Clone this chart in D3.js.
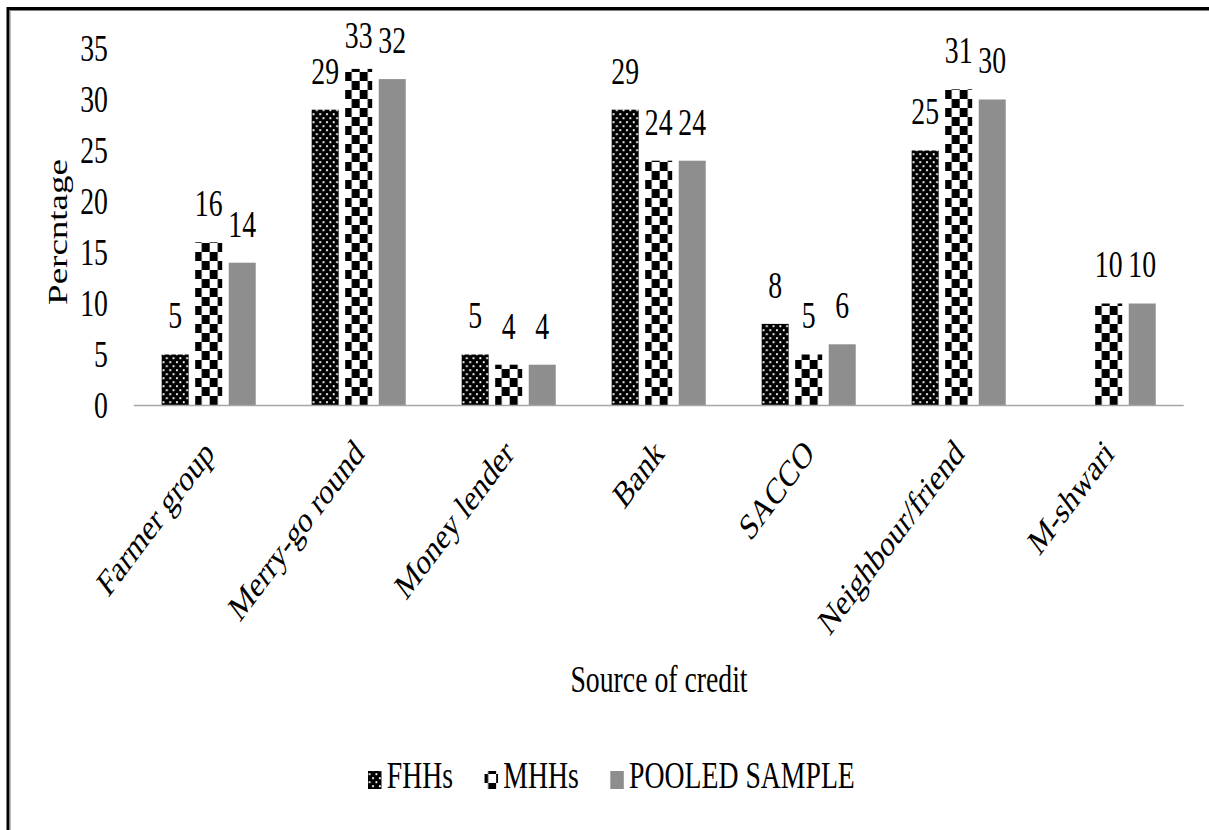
<!DOCTYPE html>
<html>
<head>
<meta charset="utf-8">
<script src="https://cdn.jsdelivr.net/npm/d3@7/dist/d3.min.js"></script>
<style>
  html, body { margin: 0; padding: 0; background: #fff; }
  svg { display: block; }
</style>
</head>
<body>
<svg id="chart" width="1209" height="830"></svg>
<script>
// Sources of credit used by households
const categories = ["Farmer group", "Merry-go round", "Money lender", "Bank", "SACCO", "Neighbour/friend", "M-shwari"];
const seriesNames = ["FHHs", "MHHs", "POOLED SAMPLE"];
const fhhs   = [5, 29, 5, 29, 8, 25, null];
const mhhs   = [16, 33, 4, 24, 5, 31, 10];
const pooled = [14, 32, 4, 24, 6, 30, 10];
const yTicks = [0, 5, 10, 15, 20, 25, 30, 35];

const seriesValues = [fhhs, mhhs, pooled];
const rows = categories.map((c, i) => ({
  category: c,
  values: seriesNames.map((s, k) => ({ series: s, value: seriesValues[k][i] }))
}));

const W = 1209, H = 830;
const SX = 0.75;              // the chart is laid out narrow: horizontal squeeze
const fontSize = 37;
const FONT = '"Liberation Serif"';

const svg = d3.select("#chart");
const defs = svg.append("defs");

// FHHs: black with white dots
const pDots = defs.append("pattern").attr("id", "pat-fhh")
  .attr("patternUnits", "userSpaceOnUse").attr("width", 9).attr("height", 8);
pDots.append("rect").attr("width", 9).attr("height", 8).attr("fill", "#000");
pDots.append("rect").attr("x", 1.2).attr("y", 1.2).attr("width", 2.4).attr("height", 2).attr("fill", "#fff");
pDots.append("rect").attr("x", 5.7).attr("y", 5.2).attr("width", 2.4).attr("height", 2).attr("fill", "#fff");

// MHHs: large checkerboard
const cw = 10.67, ch = 9;
const pCheck = defs.append("pattern").attr("id", "pat-mhh")
  .attr("patternUnits", "userSpaceOnUse").attr("width", cw * 2).attr("height", ch * 2);
pCheck.append("rect").attr("width", cw * 2).attr("height", ch * 2).attr("fill", "#fff");
pCheck.append("rect").attr("x", 0).attr("y", 0).attr("width", cw).attr("height", ch).attr("fill", "#000");
pCheck.append("rect").attr("x", cw).attr("y", ch).attr("width", cw).attr("height", ch).attr("fill", "#000");

const fills = d3.scaleOrdinal().domain(seriesNames)
  .range(["url(#pat-fhh)", "url(#pat-mhh)", "#8e8e8e"]);

const g = svg.append("g").attr("transform", `scale(${SX},1)`);

const x0 = d3.scaleBand().domain(categories)
  .range([133.7 / SX, 1183.7 / SX])
  .paddingInner(0.373).paddingOuter(0.1865);
const x1 = d3.scaleBand().domain(seriesNames)
  .range([0, x0.bandwidth()]).paddingInner(0.195);
const y = d3.scaleLinear().domain([0, 35]).range([405.5, 48.5]);

function label(sel) {
  return sel.style("font-family", FONT).style("font-size", fontSize + "px").attr("fill", "#000");
}

// Y tick labels (no axis line or gridlines)
g.append("g").selectAll("text").data(yTicks).join("text")
  .call(label)
  .attr("x", 144).attr("y", d => y(d)).attr("dy", "0.35em")
  .attr("text-anchor", "end")
  .text(d => d);

// Bars
const groups = g.append("g").selectAll("g").data(rows).join("g")
  .attr("transform", d => `translate(${x0(d.category)},0)`);

groups.selectAll("rect").data(d => d.values.filter(v => v.value != null)).join("rect")
  .attr("x", d => x1(d.series)).attr("width", x1.bandwidth())
  .attr("y", d => y(d.value)).attr("height", d => y(0) - y(d.value))
  .attr("fill", d => fills(d.series));

// Value labels
groups.selectAll("text").data(d => d.values.filter(v => v.value != null)).join("text")
  .call(label)
  .attr("x", d => x1(d.series) + x1.bandwidth() / 2)
  .attr("y", d => Math.max(y(d.value) - 26, 48))
  .attr("text-anchor", "middle")
  .text(d => d.value);

// X axis baseline
g.append("line")
  .attr("x1", x0.range()[0]).attr("x2", x0.range()[1])
  .attr("y1", y(0)).attr("y2", y(0))
  .attr("stroke", "#a6a6a6").attr("stroke-width", 1.5);

// Rotated category labels
g.append("g").selectAll("text").data(categories).join("text")
  .call(label)
  .attr("transform", d => `translate(${x0(d) + x0.bandwidth() / 2},446) rotate(-45)`)
  .attr("text-anchor", "end").attr("dy", "0.35em")
  .text(d => d);

// Axis titles
g.append("text").call(label)
  .attr("transform", `translate(${67 / SX},232) rotate(-90)`)
  .attr("text-anchor", "middle")
  .text("Percntage");

g.append("text").call(label)
  .attr("x", 659 / SX).attr("y", 692)
  .attr("text-anchor", "middle")
  .text("Source of credit");

// Legend
const legend = g.append("g");
let lx = 368 / SX;
seriesNames.forEach(s => {
  legend.append("rect").attr("x", lx).attr("y", 771).attr("width", 18).attr("height", 18)
    .attr("fill", fills(s));
  const t = legend.append("text").call(label).attr("x", lx + 25).attr("y", 788).text(s);
  lx += 25 + t.node().getComputedTextLength() + 42;
});

// Chart frame
svg.append("path").attr("d", `M8,${H}V8.5H${W}`)
  .attr("fill", "none").attr("stroke", "#000").attr("stroke-width", 3);
svg.append("path").attr("d", `M10,${H}V10.5H${W}`)
  .attr("fill", "none").attr("stroke", "#7f7f7f").attr("stroke-width", 1);
</script>
</body>
</html>
